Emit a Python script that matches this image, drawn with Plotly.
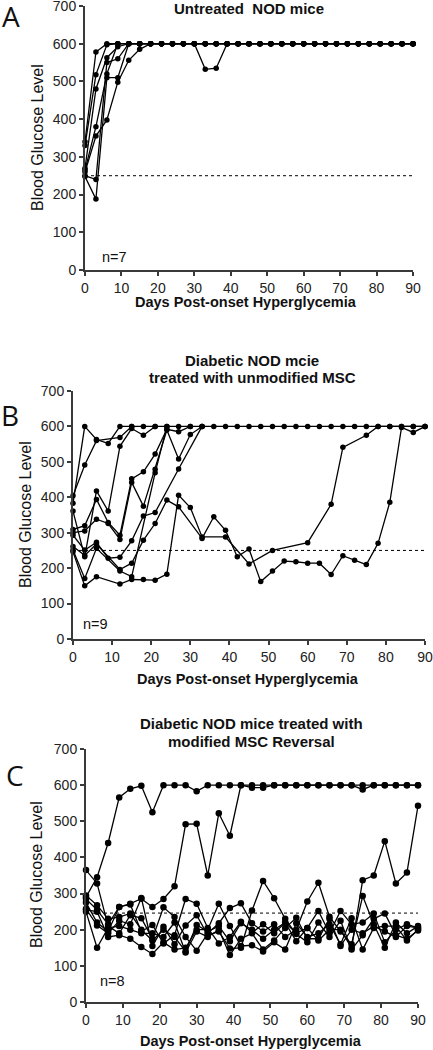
import plotly.graph_objects as go

W, H = 433, 1050

# ---------------- data ----------------
DAYS = [0, 3, 6, 9, 12, 15, 18, 21, 24, 27, 30, 33, 36, 39, 42, 45, 48, 51, 54, 57,
        60, 63, 66, 69, 72, 75, 78, 81, 84, 87, 90]

# Panel A: untreated NOD mice (n=7)
A_M1 = [340, 578, 600, 600, 600, 600, 600, 600, 600, 600, 600, 600, 600, 600, 600, 600,
        600, 600, 600, 600, 600, 600, 600, 600, 600, 600, 600, 600, 600, 600, 600]
A_M2 = [330, 518, 597, 600, 600, 600, 600, 600, 600, 600, 600, 600, 600, 600, 600, 600,
        600, 600, 600, 600, 600, 600, 600, 600, 600, 600, 600, 600, 600, 600, 600]
A_M3 = [270, 480, 563, 592, 600, 600, 600, 600, 600, 600, 600, 600, 600, 600, 600, 600,
        600, 600, 600, 600, 600, 600, 600, 600, 600, 600, 600, 600, 600, 600, 600]
A_M4 = [265, 380, 520, 600, 600, 600, 600, 600, 600, 600, 600, 600, 600, 600, 600, 600,
        600, 600, 600, 600, 600, 600, 600, 600, 600, 600, 600, 600, 600, 600, 600]
A_M5 = [260, 355, 398, 498, 556, 585, 600, 600, 600, 600, 600, 532, 535, 600, 600, 600,
        600, 600, 600, 600, 600, 600, 600, 600, 600, 600, 600, 600, 600, 600, 600]
A_M6 = [250, 240, 550, 560, 600, 600, 600, 600, 600, 600, 600, 600, 600, 600, 600, 600,
        600, 600, 600, 600, 600, 600, 600, 600, 600, 600, 600, 600, 600, 600, 600]
A_M7 = [248, 188, 510, 510, 600, 600, 600, 600, 600, 600, 600, 600, 600, 600, 600, 600,
        600, 600, 600, 600, 600, 600, 600, 600, 600, 600, 600, 600, 600, 600, 600]

# Panel B: treated with unmodified MSC (n=9)
B_T1_X = DAYS
B_T1_Y = [383, 600, 563, 552, 600, 600, 600, 600, 600, 600, 600, 600, 600, 600, 600, 600,
          600, 600, 600, 600, 600, 600, 600, 600, 600, 600, 600, 600, 600, 600, 600]
B_T2_X = [0, 3, 6, 12, 15]
B_T2_Y = [404, 491, 560, 569, 600]
B_T3_X = [0, 3, 6, 9, 12, 15, 18, 21]
B_T3_Y = [361, 232, 418, 361, 544, 594, 575, 600]
B_T4_X = [0, 3, 6, 9, 12, 15, 18, 21, 24, 27, 30]
B_T4_Y = [309, 320, 394, 329, 293, 452, 472, 522, 592, 585, 600]
B_T5_X = [0, 3, 6, 9, 12, 15, 18, 21, 24, 27, 30, 33]
B_T5_Y = [300, 305, 338, 326, 281, 442, 375, 479, 590, 508, 577, 600]
B_T6_X = [0, 3, 6, 9, 12, 15, 18, 21, 27, 33]
B_T6_Y = [293, 251, 273, 228, 231, 277, 347, 357, 480, 600]
B_T7_X = [0, 3, 6, 12, 15, 18, 21, 24, 27, 33, 36, 39, 42, 45, 48, 51, 54, 57, 60, 63,
          66, 69, 72, 75, 78, 81, 84, 87, 90]
B_T7_Y = [261, 236, 268, 196, 214, 279, 326, 392, 373, 284, 345, 307, 232, 254, 162, 192,
          220, 218, 214, 214, 182, 235, 222, 210, 270, 386, 597, 583, 600]
B_T8_X = [0, 3, 6, 12, 15, 21, 24]
B_T8_Y = [251, 171, 256, 192, 176, 469, 600]
B_T9_X = [0, 3, 6, 12, 15, 18, 21, 24, 27, 30, 33, 39, 45, 51, 60, 66, 69, 75, 78, 81,
          84, 87, 90]
B_T9_Y = [246, 150, 176, 155, 168, 168, 166, 183, 406, 371, 288, 288, 212, 250, 272, 380,
          541, 575, 600, 600, 600, 600, 600]

# Panel C: treated with modified MSC (n=8)
C_H1 = [290, 345, 440, 566, 590, 598, 525, 600, 600, 600, 583, 600, 600, 600, 600, 600,
        600, 600, 600, 600, 600, 600, 600, 600, 600, 600, 600, 600, 600, 600, 600]
C_H2 = [285, 255, 215, 263, 272, 286, 263, 285, 320, 492, 493, 350, 522, 460, 600, 593,
        593, 600, 600, 600, 600, 600, 600, 600, 600, 588, 600, 600, 600, 600, 600]
C_H3 = [295, 268, 230, 235, 245, 200, 170, 200, 180, 140, 213, 195, 210, 168, 218, 200,
        175, 200, 220, 190, 205, 170, 200, 200, 150, 337, 350, 445, 328, 358, 543]
C_L1 = [365, 328, 210, 190, 240, 232, 175, 262, 235, 180, 142, 190, 218, 260, 273, 218,
        195, 215, 180, 200, 278, 330, 236, 195, 160, 293, 215, 150, 220, 190, 210]
C_L2 = [275, 220, 195, 263, 270, 195, 213, 162, 185, 285, 272, 205, 162, 180, 222, 192,
        215, 190, 220, 168, 205, 252, 190, 252, 215, 220, 245, 165, 200, 215, 205]
C_L3 = [258, 212, 190, 225, 215, 288, 155, 208, 160, 212, 240, 185, 195, 148, 150, 253,
        335, 287, 230, 188, 165, 220, 180, 225, 145, 185, 230, 245, 185, 175, 198]
C_L4 = [255, 250, 180, 185, 175, 152, 133, 165, 145, 150, 200, 200, 272, 210, 155, 157,
        140, 165, 145, 218, 180, 190, 215, 160, 232, 145, 205, 210, 210, 170, 200]
C_L5 = [250, 150, 205, 210, 200, 190, 190, 180, 220, 137, 195, 180, 200, 130, 175, 190,
        145, 170, 205, 233, 175, 175, 230, 155, 200, 190, 210, 195, 180, 210, 205]

THRESH_A, THRESH_B, THRESH_C = 250, 250, 246
X_TICKS = [0, 10, 20, 30, 40, 50, 60, 70, 80, 90]
Y_TICKS = [0, 100, 200, 300, 400, 500, 600, 700]

# ---------------- figure ----------------
FONT = "Liberation Sans, Arial, sans-serif"
fig = go.Figure()

def add_series(xs, ys, xa, ya, msize=6):
    fig.add_trace(go.Scatter(
        x=xs, y=ys, xaxis=xa, yaxis=ya, mode="lines+markers",
        line=dict(color="black", width=1.3),
        marker=dict(color="black", size=msize),
        cliponaxis=False, showlegend=False, hoverinfo="skip"))

def add_thresh(val, xa, ya):
    fig.add_trace(go.Scatter(
        x=[0, 90], y=[val, val], xaxis=xa, yaxis=ya, mode="lines",
        line=dict(color="black", width=1, dash="dot"),
        showlegend=False, hoverinfo="skip"))

# Panel A
add_thresh(THRESH_A, "x", "y")
for ys in [A_M1, A_M2, A_M3, A_M4, A_M5, A_M6, A_M7]:
    add_series(DAYS, ys, "x", "y", 5.5)

# Panel B
add_thresh(THRESH_B, "x2", "y2")
for xs, ys in [(B_T1_X, B_T1_Y), (B_T2_X, B_T2_Y), (B_T3_X, B_T3_Y), (B_T4_X, B_T4_Y),
               (B_T5_X, B_T5_Y), (B_T6_X, B_T6_Y), (B_T7_X, B_T7_Y), (B_T8_X, B_T8_Y),
               (B_T9_X, B_T9_Y)]:
    add_series(xs, ys, "x2", "y2", 5.5)

# Panel C
add_thresh(THRESH_C, "x3", "y3")
for ys in [C_H1, C_H2, C_H3, C_L1, C_L2, C_L3, C_L4, C_L5]:
    add_series(DAYS, ys, "x3", "y3", 6.5)

def px(x):
    return x / W

def py(y):
    return 1 - y / H

def common_axis():
    return dict(showline=True, linecolor="#3a3a3a", linewidth=2, ticks="outside",
                ticklen=4, tickwidth=1.5, tickcolor="#3a3a3a", showgrid=False,
                zeroline=False, automargin=False, ticklabeloverflow="allow",
                tickfont=dict(family=FONT, size=14, color="#222"))

def xaxis(dom, anchor):
    d = common_axis()
    d.update(domain=dom, anchor=anchor, range=[0, 90], tickvals=X_TICKS)
    return d

def yaxis(dom, anchor):
    d = common_axis()
    d.update(domain=dom, anchor=anchor, range=[0, 700], tickvals=Y_TICKS)
    return d

ann = []

def text(x, y, s, size=14, bold=False, angle=0, family=FONT):
    ann.append(dict(x=px(x), y=py(y), xref="paper", yref="paper", text=s,
                    showarrow=False, xanchor="center", yanchor="middle",
                    textangle=angle, borderpad=0,
                    font=dict(family=family, size=size, color="#111",
                              weight="bold" if bold else "normal")))

# Panel letters
text(11, 16, "A", size=28, family="Open Sans, sans-serif")
text(10, 415, "B", size=28, family="Open Sans, sans-serif")
text(15, 775, "C", size=28, family="Open Sans, sans-serif")

# Titles
text(249, 9, "Untreated  NOD mice", size=15, bold=True)
text(252, 360, "Diabetic NOD mcie", size=15, bold=True)
text(252, 377, "treated with unmodified MSC", size=15, bold=True)
text(251, 723, "Diabetic NOD mice treated with", size=15, bold=True)
text(251, 741, "modified MSC Reversal", size=15, bold=True)

# Axis titles
text(246, 302, "Days Post-onset Hyperglycemia", size=14.5, bold=True)
text(248, 679, "Days Post-onset Hyperglycemia", size=14.5, bold=True)
text(251, 1041, "Days Post-onset Hyperglycemia", size=14.5, bold=True)
text(37, 138, "Blood Glucose Level", size=16, angle=-90)
text(25, 515, "Blood Glucose Level", size=16, angle=-90)
text(36, 875, "Blood Glucose Level", size=16, angle=-90)

# n labels
text(115, 257, "n=7", size=14.5)
text(95, 624, "n=9", size=14.5)
text(112, 981, "n=8", size=14.5)

fig.update_layout(
    width=W, height=H, template="none",
    margin=dict(l=0, r=0, t=0, b=0),
    paper_bgcolor="white", plot_bgcolor="white",
    showlegend=False,
    xaxis=xaxis([px(85), px(413)], "y"),
    yaxis=yaxis([py(270), py(6)], "x"),
    xaxis2=xaxis([px(73), px(425)], "y2"),
    yaxis2=yaxis([py(639), py(391)], "x2"),
    xaxis3=xaxis([px(86), px(418)], "y3"),
    yaxis3=yaxis([py(1002), py(749)], "x3"),
    annotations=ann,
)

fig.write_html("out.html",
               config={"displayModeBar": False},
               post_script="document.body.style.margin='0';"
                           "document.body.style.overflow='hidden';")
